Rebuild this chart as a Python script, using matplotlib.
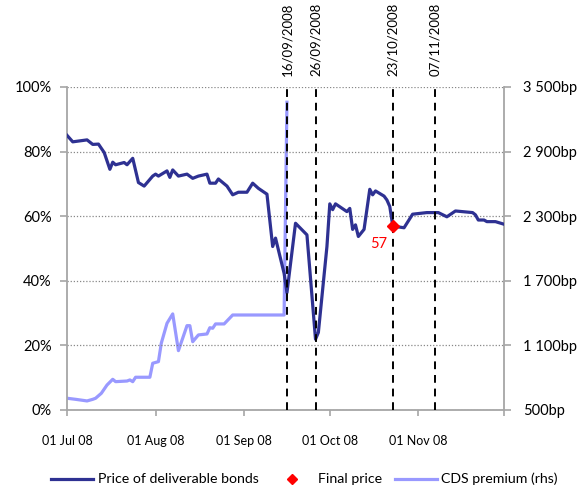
import matplotlib
matplotlib.use("Agg")
import matplotlib.pyplot as plt
from matplotlib.lines import Line2D
import pandas as pd

plt.rcParams['font.family'] = ['Lato', 'DejaVu Sans']

# ---------------- data ----------------
bond_dates = ["2008-07-01", "2008-07-03", "2008-07-08", "2008-07-10", "2008-07-12",
              "2008-07-14", "2008-07-16", "2008-07-17", "2008-07-18", "2008-07-21",
              "2008-07-22", "2008-07-24", "2008-07-26", "2008-07-28", "2008-07-31",
              "2008-08-01", "2008-08-02", "2008-08-05", "2008-08-06", "2008-08-07",
              "2008-08-09", "2008-08-12", "2008-08-14", "2008-08-16", "2008-08-19",
              "2008-08-20", "2008-08-22", "2008-08-23", "2008-08-26", "2008-08-28",
              "2008-08-30", "2008-09-02", "2008-09-04", "2008-09-06", "2008-09-09",
              "2008-09-11", "2008-09-12", "2008-09-15", "2008-09-16", "2008-09-19",
              "2008-09-23", "2008-09-26", "2008-09-27", "2008-09-30", "2008-10-01",
              "2008-10-02", "2008-10-03", "2008-10-07", "2008-10-08", "2008-10-09",
              "2008-10-10", "2008-10-11", "2008-10-13", "2008-10-15", "2008-10-16",
              "2008-10-17", "2008-10-20", "2008-10-21", "2008-10-22", "2008-10-23",
              "2008-10-24", "2008-10-27", "2008-10-30", "2008-11-04", "2008-11-08",
              "2008-11-11", "2008-11-12", "2008-11-14", "2008-11-20", "2008-11-21",
              "2008-11-22", "2008-11-24", "2008-11-25", "2008-11-28", "2008-12-01"]
bond_price = [85.0, 83.0, 83.6, 82.2, 82.3,
              79.7, 74.5, 76.7, 75.9, 76.6,
              75.9, 77.9, 70.4, 69.3, 72.4,
              73.0, 72.4, 74.0, 72.0, 74.3,
              72.4, 73.0, 71.7, 72.4, 73.0,
              70.2, 70.2, 71.5, 69.3, 66.6,
              67.4, 67.4, 70.2, 68.6, 66.8,
              50.6, 53.2, 42.3, 36.3, 57.8,
              54.2, 21.9, 24.0, 50.6, 63.8,
              62.0, 63.8, 61.4, 62.4, 55.9,
              57.3, 53.7, 55.9, 68.3, 66.6,
              67.8, 66.2, 65.0, 63.0, 57.3,
              56.8, 56.4, 60.6, 61.1, 61.1,
              59.8, 60.4, 61.6, 61.1, 60.4,
              58.8, 58.8, 58.3, 58.3, 57.5]

cds_dates = ["2008-07-01", "2008-07-04", "2008-07-08", "2008-07-10", "2008-07-11",
             "2008-07-13", "2008-07-15", "2008-07-17", "2008-07-18", "2008-07-22",
             "2008-07-23", "2008-07-24", "2008-07-25", "2008-07-30", "2008-07-31",
             "2008-08-02", "2008-08-03", "2008-08-05", "2008-08-07", "2008-08-09",
             "2008-08-12", "2008-08-13", "2008-08-14", "2008-08-16", "2008-08-19",
             "2008-08-20", "2008-08-21", "2008-08-22", "2008-08-25", "2008-08-28",
             "2008-09-15", "2008-09-16"]
cds_bp = [609, 599, 584, 599, 609,
          655, 732, 785, 763, 769,
          779, 763, 804, 804, 934,
          949, 1120, 1305, 1392, 1051,
          1283, 1283, 1134, 1197, 1206,
          1264, 1259, 1299, 1299, 1382,
          1382, 3358]

final_date = "2008-10-23"
final_price = 57

event_dates = ["2008-09-16", "2008-09-26", "2008-10-23", "2008-11-07"]
event_labels = ["16/09/2008", "26/09/2008", "23/10/2008", "07/11/2008"]

xtick_dates = ["2008-07-01", "2008-08-01", "2008-09-01", "2008-10-01", "2008-11-01", "2008-12-01"]
xtick_labels = ["01 Jul 08", "01 Aug 08", "01 Sep 08", "01 Oct 08", "01 Nov 08", ""]

left_ticks = [0, 20, 40, 60, 80, 100]
right_ticks = [500, 1100, 1700, 2300, 2900, 3500]

legend_labels = ["Price of deliverable bonds", "Final price", "CDS premium (rhs)"]

# ---------------- styles ----------------
DARK = "#2E3192"
LIGHT = "#9999FF"
GREY = "#A6A6A6"

fig = plt.figure(figsize=(5.83, 4.91), dpi=100)
ax = fig.add_axes([0.115, 0.165, 0.7495, 0.658])
ax2 = ax.twinx()
ax.set_zorder(ax2.get_zorder() + 1)
ax.patch.set_visible(False)

bd = pd.to_datetime(bond_dates)
cd = pd.to_datetime(cds_dates)

ax2.plot(cd, cds_bp, color=LIGHT, lw=2.3, solid_joinstyle='round')
ax.plot(bd, bond_price, color=DARK, lw=2.3, solid_joinstyle='round', zorder=3)
ax.plot(pd.to_datetime([final_date]), [final_price], marker='D', color='#FF0000',
        markersize=6, linestyle='none', zorder=5)
ax.annotate(str(final_price), (pd.to_datetime(final_date), final_price),
            xytext=(-10, -13), textcoords='offset points', color='#FF0000',
            fontsize=10.5, ha='center', va='center', zorder=6)

for d, lab in zip(event_dates, event_labels):
    dt = pd.to_datetime(d)
    ax.axvline(dt, color='black', lw=1.4, linestyle=(0, (4, 3)), zorder=4)
    ax.text(dt, 1.035, lab, transform=ax.get_xaxis_transform(), rotation=90,
            ha='center', va='bottom', fontsize=9.5, color='black')

# axes limits / ticks
ax.set_xlim(pd.to_datetime(xtick_dates[0]), pd.to_datetime(xtick_dates[-1]))
ax.set_ylim(left_ticks[0], left_ticks[-1])
ax2.set_ylim(right_ticks[0], right_ticks[-1])
ax.set_xticks(pd.to_datetime(xtick_dates))
ax.set_xticklabels(xtick_labels, fontsize=9)
ax.set_yticks(left_ticks)
ax.set_yticklabels([f"{v}%" for v in left_ticks], fontsize=10.5)
ax2.set_yticks(right_ticks)
ax2.set_yticklabels([f"{v:,}".replace(",", " ") + "bp" for v in right_ticks], fontsize=10.5)

ax.yaxis.grid(True, color='#888888', linestyle=(0, (1, 1.5)), lw=0.9)
ax.xaxis.grid(False)
ax.set_axisbelow(True)

for a in (ax, ax2):
    a.spines['top'].set_visible(False)
    for s in ('left', 'right', 'bottom'):
        a.spines[s].set_color(GREY)
        a.spines[s].set_linewidth(1.3)
ax.spines['right'].set_visible(False)
ax2.spines['left'].set_visible(False)
ax2.spines['bottom'].set_visible(False)

ax.tick_params(axis='x', direction='out', length=4, color=GREY, width=1.2, pad=14)
ax.tick_params(axis='y', direction='out', length=5, color=GREY, width=1.2, pad=6)
ax2.tick_params(axis='y', direction='out', length=5, color=GREY, width=1.2, pad=9)

handles = [Line2D([], [], color=DARK, lw=2.3),
           Line2D([], [], color='#FF0000', marker='D', markersize=5.5, linestyle='none'),
           Line2D([], [], color=LIGHT, lw=2.3)]
fig.legend(handles, legend_labels, loc='center', bbox_to_anchor=(0.522, 0.024),
           ncol=3, frameon=False, fontsize=10.2, handlelength=3.0,
           handletextpad=0.3, columnspacing=0.9)

fig.savefig("out.png", dpi=100)
